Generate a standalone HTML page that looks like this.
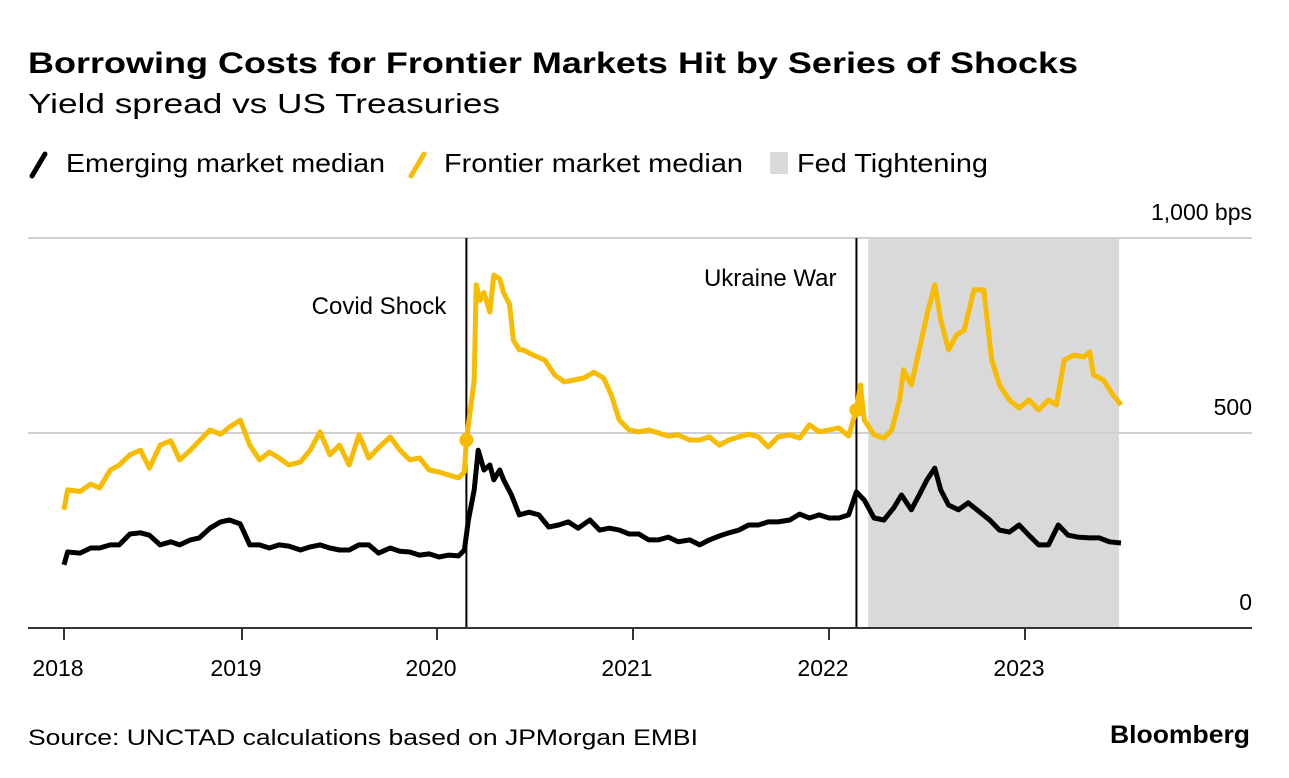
<!DOCTYPE html>
<html><head><meta charset="utf-8"><style>
html,body{margin:0;padding:0;background:#fff}
svg{display:block;font-family:"Liberation Sans",Arial,sans-serif}
</style></head><body>
<svg id="chart" width="1289" height="778" viewBox="0 0 1289 778">
<text x="28" y="73" font-size="30" font-weight="bold" fill="#000" textLength="1050" lengthAdjust="spacingAndGlyphs">Borrowing Costs for Frontier Markets Hit by Series of Shocks</text>
<text x="28" y="113" font-size="28" fill="#000" textLength="472" lengthAdjust="spacingAndGlyphs">Yield spread vs US Treasuries</text>
<g>
<line x1="32" y1="176" x2="45" y2="154" stroke="#000" stroke-width="5" stroke-linecap="round"/>
<text x="66" y="172" font-size="26" textLength="319" lengthAdjust="spacingAndGlyphs">Emerging market median</text>
<line x1="411" y1="176" x2="424" y2="154" stroke="#f7bb00" stroke-width="5" stroke-linecap="round"/>
<text x="444" y="172" font-size="26" textLength="299" lengthAdjust="spacingAndGlyphs">Frontier market median</text>
<rect x="770" y="152" width="18" height="22" fill="#d9d9d9"/>
<text x="797" y="172" font-size="26" textLength="191" lengthAdjust="spacingAndGlyphs">Fed Tightening</text>
</g>
<g id="plot"></g>
<text x="28" y="745" font-size="22" textLength="670" lengthAdjust="spacingAndGlyphs">Source: UNCTAD calculations based on JPMorgan EMBI</text>
<text x="1110" y="743" font-size="25" font-weight="bold" textLength="140" lengthAdjust="spacingAndGlyphs">Bloomberg</text>
</svg>
<script>
const yearTicks=[2018,2019,2020,2021,2022,2023];
const yTicks=[0,500,1000];
const yTickLabels=["0","500","1,000 bps"];
const eventDates=[2020.15,2022.14];
const eventLabels=["Covid Shock","Ukraine War"];
const fedStart=2022.20, fedEnd=2023.48;
const frontierDates=[2018.0,2018.02,2018.09,2018.15,2018.20,2018.26,2018.31,2018.37,2018.43,2018.48,2018.54,2018.60,2018.65,2018.71,2018.76,2018.82,2018.88,2018.93,2018.99,2019.04,2019.09,2019.14,2019.19,2019.24,2019.30,2019.35,2019.40,2019.45,2019.50,2019.55,2019.60,2019.65,2019.70,2019.76,2019.81,2019.86,2019.91,2019.96,2020.01,2020.06,2020.11,2020.14,2020.15,2020.19,2020.20,2020.22,2020.24,2020.27,2020.29,2020.32,2020.34,2020.37,2020.39,2020.42,2020.44,2020.49,2020.55,2020.60,2020.65,2020.70,2020.75,2020.80,2020.85,2020.89,2020.93,2020.98,2021.03,2021.08,2021.13,2021.18,2021.23,2021.29,2021.34,2021.39,2021.44,2021.49,2021.54,2021.59,2021.64,2021.69,2021.74,2021.80,2021.85,2021.90,2021.95,2022.0,2022.05,2022.10,2022.14,2022.16,2022.18,2022.23,2022.28,2022.32,2022.36,2022.38,2022.42,2022.46,2022.50,2022.54,2022.57,2022.61,2022.65,2022.69,2022.74,2022.79,2022.83,2022.87,2022.92,2022.97,2023.02,2023.07,2023.12,2023.16,2023.20,2023.25,2023.30,2023.33,2023.35,2023.40,2023.45,2023.49];
const frontier=[303,354,350,369,359,405,418,444,456,410,469,480,431,456,480,508,497,515,533,469,431,451,436,418,426,456,503,444,469,418,495,436,462,490,456,431,436,405,400,392,385,400,482,636,880,840,860,810,905,895,860,830,738,713,713,700,687,649,631,636,641,656,641,597,533,508,503,508,500,492,495,482,482,490,469,482,490,497,490,464,490,495,487,521,503,508,513,492,559,623,533,495,487,508,585,662,623,713,803,880,790,713,751,764,867,867,687,623,585,564,585,559,585,572,687,700,695,708,649,636,597,572];
const emergingDates=[2018.0,2018.02,2018.09,2018.15,2018.20,2018.26,2018.31,2018.37,2018.43,2018.48,2018.54,2018.60,2018.65,2018.71,2018.76,2018.82,2018.88,2018.93,2018.99,2019.04,2019.09,2019.14,2019.19,2019.24,2019.30,2019.35,2019.40,2019.45,2019.50,2019.55,2019.60,2019.65,2019.70,2019.76,2019.81,2019.86,2019.91,2019.96,2020.01,2020.06,2020.11,2020.14,2020.16,2020.19,2020.21,2020.24,2020.27,2020.29,2020.32,2020.34,2020.38,2020.42,2020.47,2020.52,2020.57,2020.62,2020.67,2020.72,2020.78,2020.83,2020.88,2020.93,2020.98,2021.03,2021.08,2021.13,2021.18,2021.23,2021.29,2021.34,2021.39,2021.44,2021.49,2021.54,2021.59,2021.64,2021.69,2021.74,2021.80,2021.85,2021.90,2021.95,2022.0,2022.05,2022.10,2022.14,2022.18,2022.23,2022.28,2022.33,2022.37,2022.42,2022.46,2022.50,2022.54,2022.57,2022.61,2022.66,2022.71,2022.77,2022.82,2022.87,2022.92,2022.97,2023.02,2023.07,2023.12,2023.17,2023.22,2023.27,2023.33,2023.38,2023.43,2023.49];
const emerging=[162,195,192,205,205,213,213,241,244,238,213,221,213,226,231,256,272,277,267,213,213,205,213,210,200,208,213,205,200,200,213,213,192,205,197,195,187,190,182,187,185,200,277,354,456,405,418,380,405,380,341,290,297,290,259,264,272,256,277,251,256,251,241,241,226,226,233,221,226,213,226,236,244,251,264,264,272,272,277,292,282,290,282,282,290,349,328,282,277,308,341,303,341,380,410,354,315,303,321,297,277,251,246,264,238,213,213,264,238,233,231,231,221,218];
</script>
<script>
const NS="http://www.w3.org/2000/svg";
const plot=document.getElementById('plot');
const tickPx=[64,242,437,633,829,1025];
function xs(t){
  for(let i=0;i<yearTicks.length-1;i++){
    if(t<=yearTicks[i+1]||i===yearTicks.length-2){
      return tickPx[i]+(t-yearTicks[i])/(yearTicks[i+1]-yearTicks[i])*(tickPx[i+1]-tickPx[i]);
    }
  }
}
function ys(v){return 628-v*0.39;}
function mk(tag,attrs,parent){const e=document.createElementNS(NS,tag);for(const k in attrs)e.setAttribute(k,attrs[k]);(parent||plot).appendChild(e);return e;}
const fed=mk('rect',{x:xs(fedStart),y:ys(1000),width:xs(fedEnd)-xs(fedStart),height:ys(0)-ys(1000),fill:'#d9d9d9'});


yTicks.forEach((v,i)=>{
  if(v>0){const g=mk('line',{x1:28,x2:1252,y1:ys(v),y2:ys(v),stroke:'#d0d0d0','stroke-width':2});
  
  }
  const t=mk('text',{x:1252,y:ys(v)-18,'font-size':23,'text-anchor':'end',fill:'#000'});
  t.textContent=yTickLabels[i];
  
  
});
eventDates.forEach((d,i)=>{
  const l=mk('line',{x1:xs(d),x2:xs(d),y1:ys(1000),y2:ys(0),stroke:'#000','stroke-width':2});
  
  
  const t=mk('text',{x:xs(d)-20,y:i===0?314:286,'font-size':24,'text-anchor':'end',fill:'#000'});
  t.textContent=eventLabels[i];
  
  
});
function path(ds,arr){return arr.map((v,i)=>(i?'L':'M')+xs(ds[i]).toFixed(1)+','+ys(v).toFixed(1)).join('');}
const pf=mk('path',{d:path(frontierDates,frontier),fill:'none',stroke:'#f7bb00','stroke-width':5,'stroke-linejoin':'round'});


const pe=mk('path',{d:path(emergingDates,emerging),fill:'none',stroke:'#000','stroke-width':5,'stroke-linejoin':'round'});


eventDates.forEach(d=>{
  let idx=0,best=1e9;frontierDates.forEach((t,i)=>{if(Math.abs(t-d)<best){best=Math.abs(t-d);idx=i;}});
  const c=mk('circle',{cx:xs(d),cy:ys(frontier[idx]),r:7,fill:'#f7bb00'});
  
  
});
const ax=mk('line',{x1:28,x2:1252,y1:ys(0),y2:ys(0),stroke:'#333','stroke-width':2});


yearTicks.forEach(y=>{
  const tk=mk('line',{x1:xs(y),x2:xs(y),y1:ys(0),y2:ys(0)+12,stroke:'#333','stroke-width':2});
  
  
  const t=mk('text',{x:xs(y)-6,y:676,'font-size':23,'text-anchor':'middle',fill:'#000'});
  t.textContent=String(y);
  
  
});
</script>
</body></html>
